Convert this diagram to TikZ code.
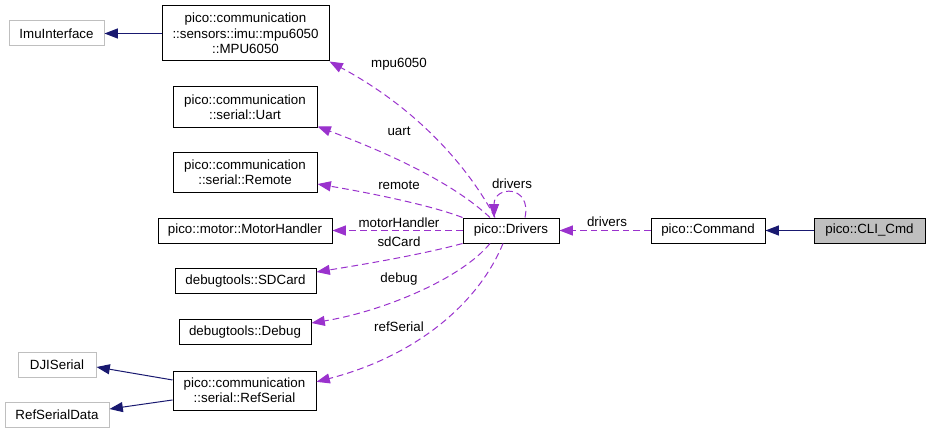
\documentclass[tikz,border=0pt]{standalone}
\usepackage{fontspec}
\setmainfont{Liberation Sans}
\usetikzlibrary{arrows.meta, calc}
\definecolor{edgepurple}{HTML}{9A32CD}
\definecolor{inhnavy}{HTML}{191970}
\definecolor{boxgray}{HTML}{BFBFBF}

\begin{document}
\begin{tikzpicture}[x=0.75pt, y=-0.75pt, line width=0.75pt,
    every node/.style={font=\fontsize{10}{11.5}\selectfont},
    cls/.style={draw=black, fill=white, align=center, inner sep=0pt, minimum height=18.75pt},
    ext/.style={cls, draw=boxgray},
    cur/.style={cls, fill=boxgray},
    inh/.style={draw=inhnavy, -{Triangle[length=10pt, width=7.5pt]}},
    use/.style={draw=edgepurple, dash pattern=on 5pt off 3pt, -{Triangle[length=10pt, width=7.5pt]}},
    lbl/.style={inner sep=1pt}]
\useasboundingbox (0,0) rectangle (931,435);

\node[ext, minimum width=71.25pt] (imu) at (56.5,33.5) {ImuInterface};
\node[cls, minimum width=125.25pt, minimum height=41.25pt] (mpu) at (245.5,33.5)
    {pico::communication\\::sensors::imu::mpu6050\\::MPU6050};
\node[cls, minimum width=108pt, minimum height=30pt] (uart) at (245,107)
    {pico::communication\\::serial::Uart};
\node[cls, minimum width=108pt, minimum height=30pt] (remote) at (245,172)
    {pico::communication\\::serial::Remote};
\node[cls, minimum width=130.5pt] (motor) at (245,230.5) {pico::motor::MotorHandler};
\node[cls, minimum width=105.75pt] (sdcard) at (245.5,281) {debugtools::SDCard};
\node[cls, minimum width=99pt] (debug) at (245,332) {debugtools::Debug};
\node[cls, minimum width=107.25pt, minimum height=29.25pt] (refser) at (244.5,390.5)
    {pico::communication\\::serial::RefSerial};
\node[ext, minimum width=58.5pt] (dji) at (57,365) {DJISerial};
\node[ext, minimum width=78pt] (refdata) at (57,415) {RefSerialData};
\node[cls, minimum width=72pt] (drv) at (511,230.5) {pico::Drivers};
\node[cls, minimum width=85.5pt] (cmd) at (708,230.5) {pico::Command};
\node[cur, minimum width=83.25pt] (cli) at (869.5,230.5) {pico::CLI\_Cmd};

\draw[inh] (mpu) -- (imu);
\draw[inh] (cli) -- (cmd);
\draw[inh] ([yshift=7.9pt]refser.west) -- ([yshift=-1.5pt]dji.east);
\draw[inh] ([yshift=-7.1pt]refser.west) -- ([yshift=4.5pt]refdata.east);

\draw[use] (cmd) -- (drv);
\draw[use] ([xshift=-12pt]drv.north) .. controls (470,170) and (420,110) .. (mpu.south east);
\draw[use] ([xshift=-15.75pt]drv.north) .. controls (450,180) and (380,150) .. ([yshift=0.75pt]uart.south east);
\draw[use] (drv.north west) .. controls (430,205) and (370,193) .. ([yshift=-9pt]remote.east);
\draw[use] (drv) -- (motor);
\draw[use] (drv.south west) .. controls (420,255) and (360,265) .. ([yshift=6.75pt]sdcard.east);
\draw[use] ([xshift=-15.75pt]drv.south) .. controls (460,280) and (380,312) .. ([yshift=6.75pt]debug.east);
\draw[use] ([xshift=-6pt]drv.south) .. controls (480,300) and (420,355) .. ([yshift=6.5pt]refser.east);
\draw[use] ([xshift=10.5pt]drv.north) .. controls (532,185) and (494,185) .. ([xshift=-12.75pt]drv.north);

\node[lbl] (l-drv) at (607,222) {drivers};
\node[lbl] (l-self) at (512,184) {drivers};
\node[lbl] (l-mpu) at (399,64) {mpu6050};
\node[lbl] (l-uart) at (399,131) {uart};
\node[lbl] (l-remote) at (399,185) {remote};
\node[lbl] (l-motor) at (399,223) {motorHandler};
\node[lbl] (l-sd) at (399,242) {sdCard};
\node[lbl] (l-debug) at (399,279) {debug};
\node[lbl] (l-ref) at (399,327) {refSerial};
\end{tikzpicture}
\end{document}
